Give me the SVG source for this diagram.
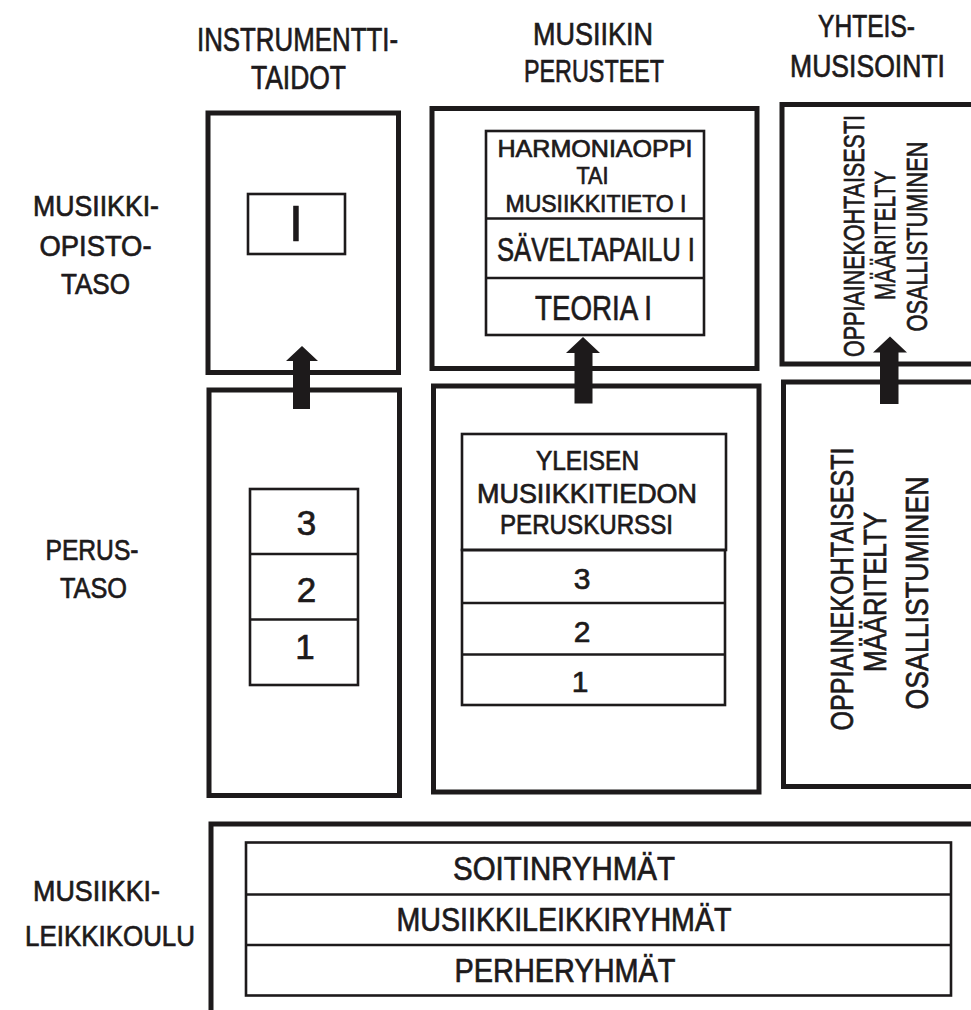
<svg xmlns="http://www.w3.org/2000/svg" width="971" height="1010" viewBox="0 0 971 1010">
<style>
text{font-family:"Liberation Sans",Arial,sans-serif;fill:#1d1a1b;stroke:#1d1a1b;stroke-width:0.7;text-anchor:middle}
.big{fill:none;stroke:#1d1a1b;stroke-width:5}
.thin{fill:none;stroke:#1d1a1b;stroke-width:2.6}
.arrow{fill:#1d1a1b;stroke:none}
</style>
<rect x="0" y="0" width="971" height="1010" fill="#ffffff"/>

<g id="col-headers">
<text x="297.5" y="51" font-size="33" textLength="201" lengthAdjust="spacingAndGlyphs">INSTRUMENTTI-</text>
<text x="298.5" y="89" font-size="33" textLength="95" lengthAdjust="spacingAndGlyphs">TAIDOT</text>
<text x="593" y="45" font-size="32" textLength="120" lengthAdjust="spacingAndGlyphs">MUSIIKIN</text>
<text x="594" y="82" font-size="32" textLength="140" lengthAdjust="spacingAndGlyphs">PERUSTEET</text>
<text x="866.5" y="37" font-size="32" textLength="97" lengthAdjust="spacingAndGlyphs">YHTEIS-</text>
<text x="867.5" y="77" font-size="32" textLength="155" lengthAdjust="spacingAndGlyphs">MUSISOINTI</text>
</g>

<g id="row-headers">
<text x="96" y="216" font-size="29" textLength="126" lengthAdjust="spacingAndGlyphs">MUSIIKKI-</text>
<text x="95.5" y="256" font-size="29" textLength="112" lengthAdjust="spacingAndGlyphs">OPISTO-</text>
<text x="95.5" y="294" font-size="29" textLength="69" lengthAdjust="spacingAndGlyphs">TASO</text>
<text x="92" y="560" font-size="29" textLength="93" lengthAdjust="spacingAndGlyphs">PERUS-</text>
<text x="93.5" y="598" font-size="29" textLength="67" lengthAdjust="spacingAndGlyphs">TASO</text>
<text x="96.5" y="901" font-size="29" textLength="127" lengthAdjust="spacingAndGlyphs">MUSIIKKI-</text>
<text x="110" y="946" font-size="29" textLength="170" lengthAdjust="spacingAndGlyphs">LEIKKIKOULU</text>
</g>

<g id="instrument-opisto">
<rect class="big" x="208" y="113" width="190.5" height="259.5"/>
<rect class="thin" x="248" y="194" width="97" height="60"/>
<text x="296" y="241" font-size="50">I</text>
</g>

<g id="instrument-perus">
<rect class="big" x="209" y="390" width="190.5" height="405.5"/>
<rect class="thin" x="250" y="489" width="108" height="196"/>
<line class="thin" x1="250" y1="554" x2="358" y2="554"/>
<line class="thin" x1="250" y1="619.5" x2="358" y2="619.5"/>
<text x="306.5" y="535" font-size="35">3</text>
<text x="306.5" y="601.5" font-size="35">2</text>
<text x="305" y="659" font-size="35">1</text>
</g>

<g id="perusteet-opisto">
<rect class="big" x="432" y="108.5" width="325" height="260"/>
<rect class="thin" x="486" y="131" width="218" height="204"/>
<line class="thin" x1="486" y1="218.5" x2="704" y2="218.5"/>
<line class="thin" x1="486" y1="278" x2="704" y2="278"/>
<text x="595" y="156.5" font-size="24" textLength="195" lengthAdjust="spacingAndGlyphs">HARMONIAOPPI</text>
<text x="592.5" y="184" font-size="24" textLength="32" lengthAdjust="spacingAndGlyphs">TAI</text>
<text x="596" y="211.5" font-size="24" textLength="181" lengthAdjust="spacingAndGlyphs">MUSIIKKITIETO I</text>
<text x="596" y="260.5" font-size="33" textLength="198" lengthAdjust="spacingAndGlyphs">SÄVELTAPAILU I</text>
<text x="593.5" y="320" font-size="35" textLength="117" lengthAdjust="spacingAndGlyphs">TEORIA I</text>
</g>

<g id="perusteet-perus">
<rect class="big" x="433.5" y="386" width="325.5" height="406"/>
<rect class="thin" x="462" y="434" width="264" height="116"/>
<rect class="thin" x="462" y="550" width="263" height="155"/>
<line class="thin" x1="462" y1="603" x2="725" y2="603"/>
<line class="thin" x1="462" y1="654.5" x2="725" y2="654.5"/>
<text x="587.5" y="470" font-size="27" textLength="103" lengthAdjust="spacingAndGlyphs">YLEISEN</text>
<text x="587" y="503" font-size="27" textLength="220" lengthAdjust="spacingAndGlyphs">MUSIIKKITIEDON</text>
<text x="586.5" y="534" font-size="27" textLength="173" lengthAdjust="spacingAndGlyphs">PERUSKURSSI</text>
<text x="582" y="588.5" font-size="30">3</text>
<text x="582" y="642" font-size="30">2</text>
<text x="580" y="692" font-size="30">1</text>
</g>

<g id="yhteis-opisto">
<rect class="big" x="782" y="104.5" width="220" height="259.5"/>
<text transform="translate(864 236) rotate(-90)" font-size="30" textLength="242" lengthAdjust="spacingAndGlyphs">OPPIAINEKOHTAISESTI</text>
<text transform="translate(895 235.5) rotate(-90)" font-size="30" textLength="129" lengthAdjust="spacingAndGlyphs">MÄÄRITELTY</text>
<text transform="translate(927 236.5) rotate(-90)" font-size="30" textLength="190" lengthAdjust="spacingAndGlyphs">OSALLISTUMINEN</text>
</g>

<g id="yhteis-perus">
<rect class="big" x="783.5" y="382" width="220" height="404.5"/>
<text transform="translate(853 589) rotate(-90)" font-size="31" textLength="283" lengthAdjust="spacingAndGlyphs">OPPIAINEKOHTAISESTI</text>
<text transform="translate(886 592) rotate(-90)" font-size="31" textLength="160" lengthAdjust="spacingAndGlyphs">MÄÄRITELTY</text>
<text transform="translate(928 593) rotate(-90)" font-size="31" textLength="233" lengthAdjust="spacingAndGlyphs">OSALLISTUMINEN</text>
</g>

<g id="leikkikoulu">
<rect class="big" x="211" y="824" width="800" height="220"/>
<rect class="thin" x="246" y="842.5" width="705" height="153"/>
<line class="thin" x1="246" y1="894.5" x2="951" y2="894.5"/>
<line class="thin" x1="246" y1="945" x2="951" y2="945"/>
<text x="564" y="880" font-size="33" textLength="222" lengthAdjust="spacingAndGlyphs">SOITINRYHMÄT</text>
<text x="564" y="931" font-size="33" textLength="335" lengthAdjust="spacingAndGlyphs">MUSIIKKILEIKKIRYHMÄT</text>
<text x="565" y="981.5" font-size="33" textLength="221" lengthAdjust="spacingAndGlyphs">PERHERYHMÄT</text>
</g>

<g id="connectors">
<polygon class="arrow" points="293,409 310,409 310,361 318,361 302,346 286,361 293,361"/>
<polygon class="arrow" points="574.5,403.5 592.5,403.5 592.5,353 600,353 583,337 566,353 574.5,353"/>
<polygon class="arrow" points="880,404 898.5,404 898.5,352.5 907,352.5 890,336.5 873,352.5 880,352.5"/>
</g>
</svg>
